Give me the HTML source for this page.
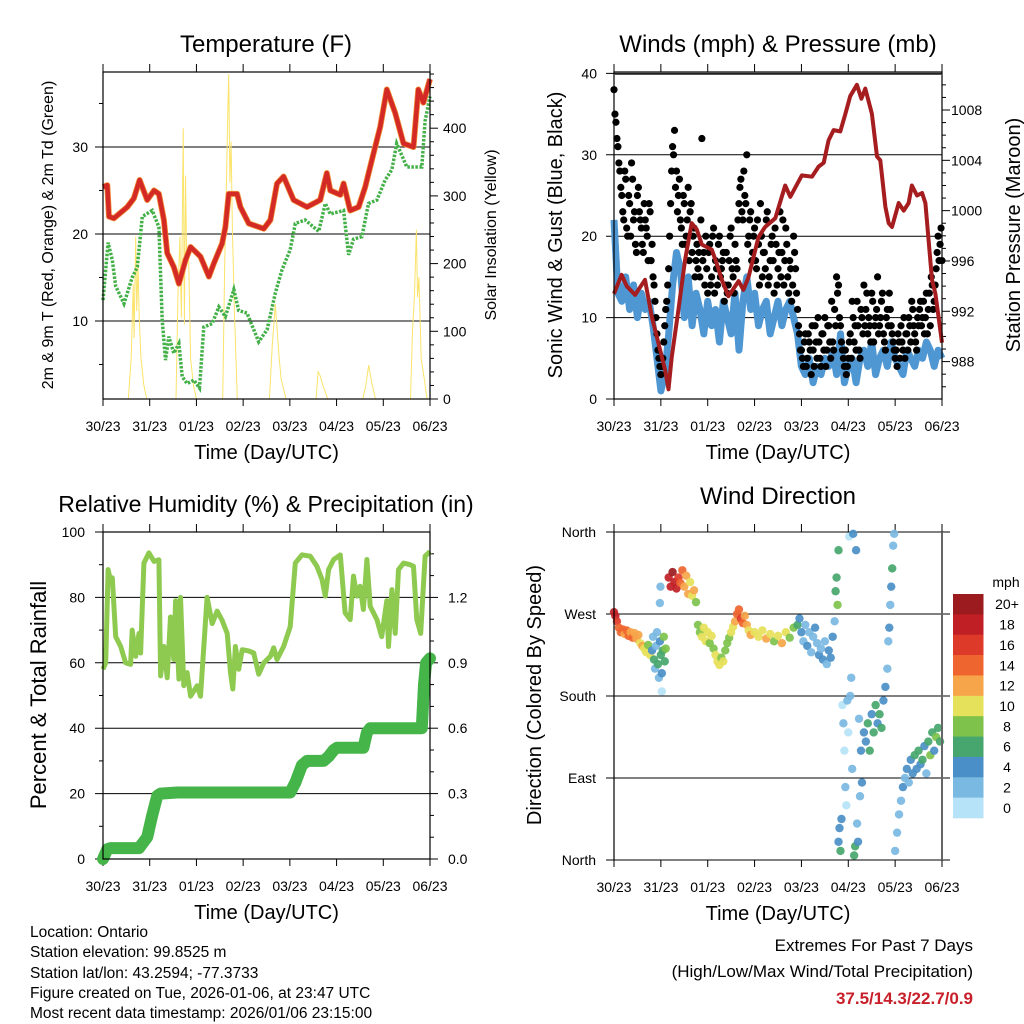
<!DOCTYPE html>
<html><head><meta charset="utf-8">
<style>
html,body{margin:0;padding:0;background:#fff;}
svg{display:block;font-family:"Liberation Sans",sans-serif;}
.bt{font-size:15.5px;fill:#000;}
</style></head>
<body>
<svg id="chart" width="1024" height="1024" viewBox="0 0 1024 1024">
<rect x="0" y="0" width="1024" height="1024" fill="#fff"/>
<g id="layer"></g>
<text class="bt" x="30" y="937">Location: Ontario</text>
<text class="bt" x="30" y="957">Station elevation: 99.8525 m</text>
<text class="bt" x="30" y="978">Station lat/lon: 43.2594; -77.3733</text>
<text class="bt" x="30" y="998">Figure created on Tue, 2026-01-06, at 23:47 UTC</text>
<text class="bt" x="30" y="1018">Most recent data timestamp: 2026/01/06 23:15:00</text>
<text class="bt" x="973" y="951" text-anchor="end" style="font-size:17px">Extremes For Past 7 Days</text>
<text class="bt" x="973" y="977" text-anchor="end" style="font-size:17px">(High/Low/Max Wind/Total Precipitation)</text>
<text x="973" y="1004" text-anchor="end" style="font-size:17px;font-weight:bold;fill:#c8202a">37.5/14.3/22.7/0.9</text>
</svg>
<script>
// ---------- DATA ----------
const dayLabels = ['30/23','31/23','01/23','02/23','03/23','04/23','05/23','06/23'];
const tempHours = [0,2.2,3.1,5.6,12.5,15.9,18.8,22.7,26.2,28.7,31.3,33,36.4,39,42.4,45,50.1,54.4,56.9,61.2,62.9,64.6,68.9,70.6,74.9,82.6,86,89.4,92.8,97.9,104.8,111.6,115,116.8,121.9,123.6,127,131.3,134.7,139,142.4,145.8,150.1,154.4,159.5,162,164.6,168];
const tempValues = [25.4,25.6,22,21.8,23.1,24.1,26.2,23.9,25,24.6,21.6,17.8,16.2,14.3,17,18.5,17.4,15.1,16.6,18.9,20.8,24.6,24.6,23.1,21.2,20.6,21.6,25.8,26.6,23.9,23.1,23.9,27,25,24.5,25.8,22.7,23.1,25.4,29.3,32.3,36.6,33.9,30.4,30,36.6,35.1,37.8];
const dewHours = [0,2.6,4.8,6.5,10.8,15,17.6,20.2,25.3,28.7,30.4,32.1,33.8,36.4,39,40.7,43.2,46.7,49.6,51.8,56.1,59.5,62.9,67.2,69.7,74,80,84.3,88.5,92,96.2,98.8,103.9,110.8,114.2,116.8,123.6,126.2,128.7,133,136.4,140.7,145,148.4,150.9,156.1,163.8,165.5,168];
const dewValues = [12.4,19,17,14,12,15,16.2,22,22.7,20.8,10.1,5.5,8.2,6.3,7.4,3.6,2.8,3.2,2.3,9.3,9.7,11.6,10.5,13.6,11.2,10.9,7.6,9,13.2,15.9,18.2,21.2,21.6,20.3,23.5,22.3,22.7,17.6,19.4,19.7,23.5,23.9,26.2,27.4,30.4,27.7,27.7,33,35.8];
const solarHours = [0,13,14.5,15.5,16,16.8,17.3,18,18.6,19.5,21,22.5,37.5,38.5,39.5,40.3,41.2,41.8,42.4,43,44,45,46.5,48,61.5,62.5,63.3,64,64.6,65.2,65.8,66.5,67.5,69,85.5,87,88.5,89.5,90.5,91.5,94,109.5,110.5,111.5,113,115.5,133.5,135,136.5,138,140,158,159,160,161,161.6,162.3,163.5,165,166.5,168];
const solarValues = [0,0,60,170,90,240,130,200,120,60,20,0,0,150,240,120,400,110,330,200,210,60,20,0,0,200,300,410,480,320,380,250,130,0,0,80,140,100,60,30,0,0,40,35,20,0,0,20,50,25,0,0,100,150,250,150,180,60,30,0,0];
const windHours = [0,2,4,6,8,10,12,14,16,18,20,22,24,26,28,30,32,34,36,38,40,42,44,46,48,50,52,54,56,58,60,62,64,66,68,70,72,74,76,78,80,82,84,86,88,90,92,94,96,98,100,102,104,106,108,110,112,114,116,118,120,122,124,126,128,130,132,134,136,138,140,142,144,146,148,150,152,154,156,158,160,162,164,166,168];
const windValues = [22,13,12,15,11,14,10,13,11,12,9,5,1,3,8,14,18,16,10,15,9,13,11,8,12,9,11,7,12,10,8,13,6,12,15,11,13,9,11,12,8,10,12,9,11,12,10,8,4,3,5,2,4,3,5,4,6,3,8,2,4,5,2,5,6,4,7,3,5,6,4,7,5,4,3,6,5,4,6,5,7,6,4,6,5];
const gustValues = [38,34,31,28,25,22,27,20,24,29,22,19,25,23,21,18,22,20,24,17,15,12,8,5,
3,5,9,12,16,24,31,33,28,25,22,19,24,20,26,23,18,21,17,16,15,32,18,20,
13,19,15,21,17,14,20,16,18,14,13,17,21,15,19,16,24,27,22,25,30,20,23,18,
21,16,19,24,15,18,22,14,17,20,13,19,16,23,18,14,21,15,17,12,20,16,11,8,
6,4,8,5,7,3,6,9,5,7,4,8,10,6,9,5,7,11,15,14,9,6,4,3,
5,8,12,7,6,9,5,10,14,11,8,9,13,7,10,15,9,12,8,6,11,13,9,7,
5,4,7,9,6,5,8,10,7,11,8,6,9,12,10,8,13,11,9,14,12,16,20,19,17];
const gustHalfHourValues = [35,32,29,26,23,28,21,25,20,27,23,18,26,22,19,24,21,17,23,19,14,10,6,4,
4,7,11,14,20,28,30,26,23,27,21,25,19,22,17,24,20,15,19,18,22,17,14,16,
18,14,20,13,16,19,15,17,12,18,14,20,16,13,17,22,26,23,28,24,19,22,17,20,
17,22,14,20,18,16,23,15,19,17,21,14,18,15,22,17,19,13,16,14,18,13,9,6,
5,7,4,8,6,9,4,7,10,5,8,6,4,9,7,12,6,9,13,10,7,5,6,4,
7,5,10,9,12,6,11,8,9,13,10,7,12,9,11,8,10,13,7,10,9,11,8,6,
6,8,5,7,10,8,6,9,12,9,7,10,11,9,12,10,8,13,15,11,14,18,17,21];
const presHours = [0,3.9,6.5,10.8,15.9,19.3,22.7,26.2,27.9,29.6,33,36.4,39.8,42.4,45,50.1,52.6,55.2,58.6,63.8,66.3,68.9,74,77.4,82.6,87.7,90.3,96.2,101.4,104.8,107.4,109.9,112.5,115.9,118.5,121,124.4,126.7,128.7,132.1,134.7,136.4,139,140.7,142.4,145.8,148.4,150.9,152.6,155.2,157.8,159.5,162.9,164.6,168];
const presValues = [993.4,994.9,994,993.3,994.5,991.6,989.5,987.3,985.8,988.4,992.1,996.1,999,998.5,997.3,996.9,995.8,994.5,993.2,994.4,993.7,994.7,997.9,998.7,999.4,1002,1001.1,1002.8,1002.7,1003.5,1003.8,1005.6,1006.4,1006.3,1007.7,1009.1,1010,1008.9,1009.7,1007.7,1004.3,1004,1000.3,999,998.7,1000.6,1000,1000.6,1002,1001.2,1001.4,1000.6,994.5,993.4,989.5];
const rhHours = [0,1.4,2.6,3.9,4.8,6.5,9.1,11.6,14.2,15,16.8,18.5,19.3,21,23.6,26.2,28.7,29.6,31.3,33,34.7,36.4,37.3,39,39.8,41.5,43.2,45,48.4,50.1,53.5,56.1,58.6,61.2,63.8,65.5,66.7,68,69.7,71.5,74.9,77.4,80,82.6,86,87.7,89.4,92.8,96.2,98.8,102.2,106.5,109.9,112.5,114.2,115.9,118.5,121.9,124.4,127,128.7,130.4,132.1,133.8,135.6,137.3,140.7,143.2,145.8,146.7,148.4,150.1,151.8,154.4,157.8,159.5,161.2,163.2,165.5,168];
const rhValues = [58,60,88.5,85,86,68,65,60,59.5,70,62,69,63,90.5,93.6,91,91.5,56,65,55.4,74,61,79,55,80,53,57,49.8,53,49.8,80,72,75.8,73,69,57,52,65,58,64,63.6,63,56.5,60,62,64.6,61,65,71,90.5,93,92.6,89.5,85.5,80.4,88.5,91.6,93,75.3,73.2,86.5,80.4,83.4,76.3,91.6,77.3,73.2,68,79,65,82.4,69,88.5,90.5,90,89.5,73.2,69,92.6,94];
const rainHours = [0,2.2,3.9,18.5,22.7,25.3,27.9,29.6,38.1,96.2,98.8,102.2,104.8,113.3,115.9,118.5,120.2,133.8,135.6,137.3,163.8,164.9,166,168];
const rainValues = [0,0.045,0.05,0.05,0.1,0.2,0.29,0.3,0.305,0.305,0.35,0.43,0.45,0.45,0.47,0.5,0.51,0.51,0.58,0.6,0.6,0.8,0.9,0.92];
const dirHours = [0,0.7,1.5,2.5,3.5,4.5,5.5,6.5,7.5,8.5,9.5,10.5,11.5,12.5,13.5,14.5,15.5,16.5,17.5,18.5,19.5,20,20.5,21,21.5,22,22.5,23,23.5,24,24.5,25,25.5,26,26.5,23.5,23.8,24.5,28,29,30,31,32,33,34,35,36,37,38,39,40,41,42,43,44,45,46,47,48,49,50,51,52,53,54,55,56,57,58,59,60,61,62,63,64,65,66,67,68,69,70,72,74,76,78,80,82,84,86,88,90,92,94,95,96,97,98,99,100,101,102,103,104,105,106,107,108,109,110,111,112,113,113.5,114,114.5,115,115,115.5,116,116.5,117,117.5,118,118.5,119,119.5,120,120.5,121,121.5,122,122.5,123,123.5,124,124.5,125,125.5,126,126.5,127,128,129,130,131,132,133,134,135,136,137,138,139,140,140.5,141,141.5,142,142.5,143,143.5,144,145,146,147,148,149,150,151,152,153,154,155,156,157,158,159,160,161,162,163,164,165,166,167];
const dirDegrees = [272,268,262,255,250,253,248,252,246,250,244,249,243,247,238,235,232,228,236,225,230,245,220,210,235,250,215,200,240,225,205,230,245,218,232,282,300,185,310,300,316,305,298,310,304,318,300,312,292,305,290,296,283,258,250,245,255,240,250,238,246,232,225,218,214,222,218,230,238,244,250,256,262,270,275,265,260,268,258,252,247,250,245,252,243,248,240,246,238,250,244,255,258,265,250,240,258,235,250,228,245,255,238,225,232,220,240,215,230,222,245,262,295,310,280,340,20,35,10,45,170,150,120,80,60,175,140,355,180,200,100,358,5,15,340,40,20,155,70,120,85,140,130,150,120,160,140,170,150,160,145,175,190,210,240,255,280,300,320,345,358,10,30,50,65,80,90,100,85,110,95,115,100,120,105,110,125,95,130,115,140,120,135,145,130];
const dirSpeeds = [19,18,16,15,14,14,13,15,14,13,14,13,12,13,11,12,10,11,9,10,4,3,7,3,2,2,6,2,4,6,5,7,8,6,9,2,2,1,19,18,20,19,18,16,14,14,13,12,12,11,10,12,9,8,9,10,11,10,10,9,11,9,10,10,11,9,10,8,9,8,10,11,13,15,14,16,14,13,12,11,12,10,11,10,12,10,9,11,12,10,9,8,6,5,4,3,2,4,3,3,2,4,3,4,3,4,3,3,4,5,4,3,6,7,8,7,4,5,6,4,1,2,1,2,0,2,1,1,2,3,2,5,7,6,4,2,5,2,3,4,4,5,4,7,6,5,7,6,4,7,6,4,4,3,2,4,3,4,6,2,2,2,2,3,3,4,3,4,3,5,4,6,5,7,4,6,5,3,6,8,7,5,9,7,6];
const speedColors = ['#b6e3f7','#7ab9e2','#4a8fc7','#47a66d','#7ec24b','#e6e15a','#f6a54a','#ef6530','#de3a2a','#c01f26','#9b1b1e'];
const speedLabels = ['0','2','4','6','8','10','12','14','16','18','20+'];

// ---------- HELPERS ----------
const NS = 'http://www.w3.org/2000/svg';
const layer = document.getElementById('layer');
function mk(tag, attrs, parent) {
  const e = document.createElementNS(NS, tag);
  for (const k in attrs) e.setAttribute(k, attrs[k]);
  (parent || layer).appendChild(e);
  return e;
}
function txt(s, x, y, size, anchor, parent, extra) {
  const t = mk('text', Object.assign({x: x, y: y, 'font-size': size, 'text-anchor': anchor || 'middle', fill: '#000'}, extra || {}), parent);
  t.textContent = s;
  return t;
}
function linePath(xs, ys, fx, fy) {
  let d = '';
  for (let i = 0; i < xs.length; i++) d += (i ? 'L' : 'M') + fx(xs[i]).toFixed(1) + ',' + fy(ys[i]).toFixed(1);
  return d;
}
function frame(name, x0, x1, y0, y1) {
  const g = mk('g', {});
  
  
  const fx = h => x0 + h / 168 * (x1 - x0);
  for (let i = 0; i < dayLabels.length; i++) {
    const x = fx(i * 24);
    mk('line', {x1: x, x2: x, y1: y1, y2: y1 + 7, stroke: '#000', 'stroke-width': 1}, g);
    mk('line', {x1: x, x2: x, y1: y0, y2: y0 - 8, stroke: '#000', 'stroke-width': 1}, g);
    const t = txt(dayLabels[i], x, y1 + 32, 14, 'middle', g);
    
    
  }
  const xt = txt('Time (Day/UTC)', (x0 + x1) / 2, y1 + 60, 20, 'middle', g);
  
  
  return {g: g, fx: fx};
}
function border(g, x0, x1, y0, y1) {
  const r = mk('rect', {x: x0, y: y0, width: x1 - x0, height: y1 - y0, fill: 'none', stroke: '#000', 'stroke-width': 1.2}, g);
  
  
}
function yTicks(g, x0, x1, vals, fy, labels, side, len, grid, fs, lx) {
  for (let i = 0; i < vals.length; i++) {
    const y = fy(vals[i]);
    if (side === 'left') {
      mk('line', {x1: x0 - len, x2: grid ? x1 : x0, y1: y, y2: y, stroke: '#000', 'stroke-width': 1}, g);
      if (labels) {
        const t = txt(labels[i], lx, y + 5, fs, 'end', g);
        
        
      }
    } else {
      mk('line', {x1: x1, x2: x1 + len, y1: y, y2: y, stroke: '#000', 'stroke-width': 1}, g);
      if (labels) {
        const t = txt(labels[i], lx, y + 5, fs, 'start', g);
        
        
      }
    }
  }
}
function rotTitle(g, s, x, y, size, name) {
  const t = txt(s, x, y, size, 'middle', g, {transform: 'rotate(-90 ' + x + ' ' + y + ')'});
  
  
}
function title(s, x, y, size, name) {
  const t = txt(s, x, y, size, 'middle');
  
  
}

// ---------- PANEL 1: TEMPERATURE ----------
(function () {
  const x0 = 103, x1 = 430, y0 = 72, y1 = 399;
  const P = frame('temperature-panel', x0, x1, y0, y1);
  const g = P.g, fx = P.fx;
  const fy = v => y1 - (v - 1.03) * 8.7;
  const fs = v => y1 - v * 0.677;
  yTicks(g, x0, x1, [10, 20, 30], fy, ['10', '20', '30'], 'left', 8, true, 14, 88);
  yTicks(g, x0, x1, [5, 15, 25, 35], fy, null, 'left', 4, false);
  yTicks(g, x0, x1, [0, 100, 200, 300, 400], fs, ['0', '100', '200', '300', '400'], 'right', 8, false, 14, 443);
  const minor = [];
  for (let v = 20; v <= 480; v += 20) if (v % 100) minor.push(v);
  yTicks(g, x0, x1, minor, fs, null, 'right', 4, false);
  const sol = mk('path', {d: linePath(solarHours, solarValues, fx, fs), fill: 'none', stroke: '#fbe36a', 'stroke-width': 1}, g);
  
  
  const t9 = mk('path', {d: linePath(tempHours, tempValues, fx, fy), fill: 'none', stroke: '#f2923a', 'stroke-width': 6, 'stroke-linejoin': 'round'}, g);
  
  
  const t2 = mk('path', {d: linePath(tempHours, tempValues, fx, fy), fill: 'none', stroke: '#d42a26', 'stroke-width': 4.5, 'stroke-linejoin': 'round'}, g);
  
  
  const dw = mk('path', {d: linePath(dewHours, dewValues, fx, fy), fill: 'none', stroke: '#43b048', 'stroke-width': 3.5, 'stroke-dasharray': '2.5 1.5'}, g);
  
  
  border(g, x0, x1, y0, y1);
  rotTitle(g, '2m & 9m T (Red, Orange) & 2m Td (Green)', 53, 235, 16, 'y-axis-title');
  rotTitle(g, 'Solar Insolation (Yellow)', 496, 235, 16, 'y2-axis-title');
  title('Temperature (F)', 266, 52, 24, 'temperature-title');
})();

// ---------- PANEL 2: WINDS & PRESSURE ----------
(function () {
  const x0 = 614, x1 = 942, y0 = 72, y1 = 399;
  const P = frame('winds-panel', x0, x1, y0, y1);
  const g = P.g, fx = P.fx;
  const fy = v => y1 - v * 8.14;
  const fp = p => 110 + (1008 - p) * 12.58;
  yTicks(g, x0, x1, [0, 10, 20, 30, 40], fy, ['0', '10', '20', '30', '40'], 'left', 8, true, 14, 597);
  yTicks(g, x0, x1, [988, 992, 996, 1000, 1004, 1008], fp, ['988', '992', '996', '1000', '1004', '1008'], 'right', 8, false, 14, 951);
  const minor = [];
  for (let p = 986; p <= 1010; p++) if (p % 4) minor.push(p);
  yTicks(g, x0, x1, minor, fp, null, 'right', 4, false);
  const wl = mk('path', {d: linePath(windHours, windValues, fx, fy), fill: 'none', stroke: '#4f97d3', 'stroke-width': 7, 'stroke-linejoin': 'round'}, g);
  
  
  const gg = mk('g', {}, g);
  
  
  for (let i = 0; i < gustValues.length; i++) {
    const c = mk('circle', {cx: fx(i), cy: fy(gustValues[i]), r: 3.6, fill: '#000'}, gg);
    
    
  }
  for (let i = 0; i < gustHalfHourValues.length; i++) {
    const c = mk('circle', {cx: fx(i + 0.5), cy: fy(gustHalfHourValues[i]), r: 3.6, fill: '#000'}, gg);
    
    
  }
  const pl = mk('path', {d: linePath(presHours, presValues, fx, fp), fill: 'none', stroke: '#a51d1f', 'stroke-width': 4, 'stroke-linejoin': 'round'}, g);
  
  
  border(g, x0, x1, y0, y1);
  mk('line', {x1: x0, x2: x1, y1: y0 + 2.5, y2: y0 + 2.5, stroke: '#555', 'stroke-width': 1}, g);
  rotTitle(g, 'Sonic Wind & Gust (Blue, Black)', 562, 235, 20, 'y-axis-title');
  rotTitle(g, 'Station Pressure (Maroon)', 1020, 235, 20, 'y2-axis-title');
  title('Winds (mph) & Pressure (mb)', 778, 52, 24, 'winds-title');
})();

// ---------- PANEL 3: HUMIDITY & PRECIP ----------
(function () {
  const x0 = 103, x1 = 430, y0 = 532, y1 = 859;
  const P = frame('humidity-panel', x0, x1, y0, y1);
  const g = P.g, fx = P.fx;
  const fy = v => y1 - v * 3.27;
  const fr = r => y1 - r / 1.5 * 327;
  yTicks(g, x0, x1, [0, 20, 40, 60, 80, 100], fy, ['0', '20', '40', '60', '80', '100'], 'left', 8, true, 14, 85);
  yTicks(g, x0, x1, [10, 30, 50, 70, 90], fy, null, 'left', 4, false);
  yTicks(g, x0, x1, [0, 0.3, 0.6, 0.9, 1.2], fr, ['0.0', '0.3', '0.6', '0.9', '1.2'], 'right', 8, false, 14, 448);
  yTicks(g, x0, x1, [0.1, 0.2, 0.4, 0.5, 0.7, 0.8, 1.0, 1.1, 1.3, 1.4], fr, null, 'right', 4, false);
  const rh = mk('path', {d: linePath(rhHours, rhValues, fx, fy), fill: 'none', stroke: '#8fca50', 'stroke-width': 5, 'stroke-linejoin': 'round'}, g);
  
  
  const rn = mk('path', {d: linePath(rainHours, rainValues, fx, fr), fill: 'none', stroke: '#46b549', 'stroke-width': 12, 'stroke-linejoin': 'round', 'stroke-linecap': 'round'}, g);
  
  
  border(g, x0, x1, y0, y1);
  rotTitle(g, 'Percent & Total Rainfall', 46, 695, 22, 'y-axis-title');
  title('Relative Humidity (%) & Precipitation (in)', 266, 512, 23, 'humidity-title');
})();

// ---------- PANEL 4: WIND DIRECTION ----------
(function () {
  const x0 = 614, x1 = 942, y0 = 532, y1 = 860;
  const P = frame('direction-panel', x0, x1, y0, y1);
  const g = P.g, fx = P.fx;
  const fy = d => y1 - d * (328 / 360);
  const dirs = [0, 90, 180, 270, 360];
  const dirNames = ['North', 'East', 'South', 'West', 'North'];
  for (let i = 0; i < dirs.length; i++) {
    const y = fy(dirs[i]);
    mk('line', {x1: x0 - 8, x2: x1 + 8, y1: y, y2: y, stroke: '#000', 'stroke-width': 1}, g);
    const t = txt(dirNames[i], 596, y + 5, 14, 'end', g);
    
    
  }
  const pg = mk('g', {}, g);
  
  
  for (let i = 0; i < dirHours.length; i++) {
    const idx = Math.max(0, Math.min(10, Math.floor(dirSpeeds[i] / 2)));
    const c = mk('circle', {cx: fx(dirHours[i]), cy: fy(dirDegrees[i]), r: 4.2, fill: speedColors[idx], 'fill-opacity': 0.92}, pg);
    
    
  }
  mk('line', {x1: x0, x2: x0, y1: y0, y2: y1, stroke: '#000', 'stroke-width': 1.2}, g);
  mk('line', {x1: x1, x2: x1, y1: y0, y2: y1, stroke: '#666', 'stroke-width': 2}, g);
  rotTitle(g, 'Direction (Colored By Speed)', 541, 695, 20, 'y-axis-title');
  title('Wind Direction', 778, 504, 24, 'direction-title');
  const lg = mk('g', {});
  
  
  const lt = txt('mph', 1006, 587, 14, 'middle', lg);
  
  
  const bh = (818 - 594) / 11;
  for (let i = 0; i < 11; i++) {
    const k = 10 - i;
    const y = 594 + i * bh;
    const r = mk('rect', {x: 953, y: y, width: 30.5, height: bh + 0.3, fill: speedColors[k]}, lg);
    
    
    const t = txt(speedLabels[k], 1007, y + bh / 2 + 5, 14, 'middle', lg);
    
    
  }
})();
</script>
</body></html>
